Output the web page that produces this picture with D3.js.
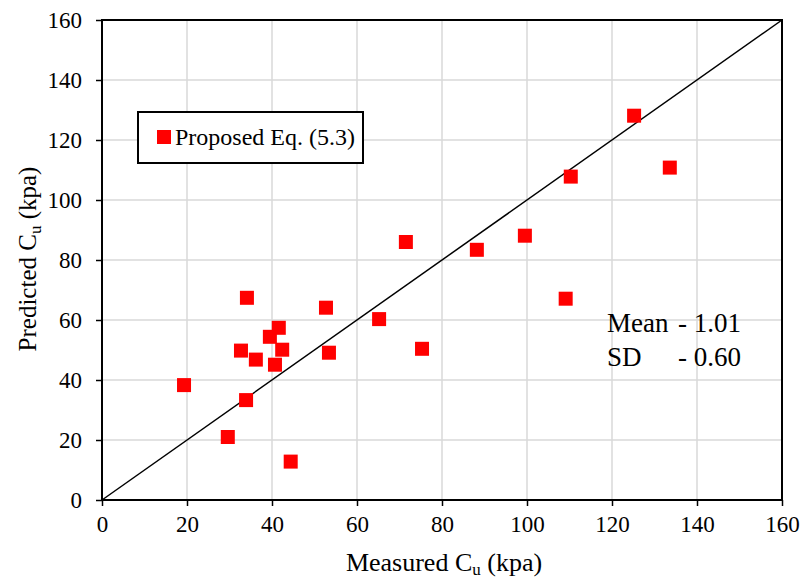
<!DOCTYPE html>
<html>
<head>
<meta charset="utf-8">
<script src="https://cdn.jsdelivr.net/npm/d3@7"></script>
<style>
  body { margin: 0; background: #fff; }
</style>
</head>
<body>
<div id="chart"></div>
<script>
// measured vs predicted Cu (kpa)
const measured  = [19.3, 29.6, 32.7, 33.9, 34.1, 36.2, 39.5, 41.6, 42.4, 40.7, 44.4,
                   52.7, 53.4, 65.2, 71.5, 75.3, 88.2, 99.5, 109.1, 110.3, 125.2, 133.6];
const predicted = [38.3, 21.0, 49.8, 33.3, 67.4, 46.8, 54.4, 57.4, 50.1, 45.1, 12.8,
                   64.1, 49.1, 60.3, 86.0, 50.4, 83.4, 88.1, 67.1, 107.8, 128.1, 110.8];
const tickValues = [0, 20, 40, 60, 80, 100, 120, 140, 160];
const legendLabel = "Proposed Eq. (5.3)";
const statsLines = [["Mean", "- 1.01"], ["SD", "- 0.60"]];

const width = 803, height = 580;
const margin = {top: 20, right: 21, bottom: 80, left: 102};
const red = "#ff0000";
const serif = "Liberation Serif";

const svg = d3.select("#chart").append("svg")
    .attr("width", width).attr("height", height)
    .attr("font-family", serif);

const x = d3.scaleLinear().domain([0, 160]).range([margin.left, width - margin.right]);
const y = d3.scaleLinear().domain([0, 160]).range([height - margin.bottom, margin.top]);

// gridlines
svg.append("g").selectAll("line.gx")
    .data(tickValues.slice(1, -1))
    .enter().append("line")
    .attr("x1", d => x(d)).attr("x2", d => x(d))
    .attr("y1", y(0)).attr("y2", y(160))
    .attr("stroke", "#d9d9d9").attr("stroke-width", 1.5);
svg.append("g").selectAll("line.gy")
    .data(tickValues.slice(1, -1))
    .enter().append("line")
    .attr("y1", d => y(d)).attr("y2", d => y(d))
    .attr("x1", x(0)).attr("x2", x(160))
    .attr("stroke", "#d9d9d9").attr("stroke-width", 1.5);

// axes
const xAxis = svg.append("g")
    .attr("transform", "translate(0," + y(0) + ")")
    .call(d3.axisBottom(x).tickValues(tickValues).tickSize(6).tickPadding(10));
const yAxis = svg.append("g")
    .attr("transform", "translate(" + x(0) + ",0)")
    .call(d3.axisLeft(y).tickValues(tickValues).tickSize(6).tickPadding(14));
[xAxis, yAxis].forEach(function(a) {
    a.attr("font-family", serif).attr("font-size", 23);
    a.select(".domain").remove();
    a.selectAll(".tick line").attr("stroke", "#000").attr("stroke-width", 1.5);
    a.selectAll(".tick text").attr("fill", "#000");
});

// plot frame
svg.append("rect")
    .attr("x", x(0)).attr("y", y(160))
    .attr("width", x(160) - x(0)).attr("height", y(0) - y(160))
    .attr("fill", "none").attr("stroke", "#000").attr("stroke-width", 2);

// 1:1 line
svg.append("line")
    .attr("x1", x(0)).attr("y1", y(0))
    .attr("x2", x(160)).attr("y2", y(160))
    .attr("stroke", "#000").attr("stroke-width", 1.5);

// points
const pts = measured.map((m, i) => ({m: m, p: predicted[i]}));
const sz = 14;
svg.append("g").selectAll("rect")
    .data(pts)
    .enter().append("rect")
    .attr("x", d => x(d.m) - sz / 2)
    .attr("y", d => y(d.p) - sz / 2)
    .attr("width", sz).attr("height", sz)
    .attr("fill", red);

// legend
const lg = svg.append("g");
lg.append("rect")
    .attr("x", 138).attr("y", 112).attr("width", 225).attr("height", 51)
    .attr("fill", "#fff").attr("stroke", "#000").attr("stroke-width", 2);
lg.append("rect")
    .attr("x", 157).attr("y", 130).attr("width", 14).attr("height", 14)
    .attr("fill", red);
lg.append("text")
    .attr("x", 175).attr("y", 145)
    .attr("font-size", 24)
    .text(legendLabel);

// stats text
const st = svg.append("g").attr("font-size", 27);
statsLines.forEach(function(l, i) {
    st.append("text").attr("x", 607).attr("y", 332 + i * 34).text(l[0]);
    st.append("text").attr("x", 678).attr("y", 332 + i * 34).text(l[1]);
});

// axis titles
const xt = svg.append("text")
    .attr("x", (x(0) + x(160)) / 2 + 2).attr("y", 571)
    .attr("text-anchor", "middle")
    .attr("font-size", 26);
xt.append("tspan").text("Measured C");
xt.append("tspan").attr("dy", 4).attr("font-size", 17).text("u");
xt.append("tspan").attr("dy", -4).text(" (kpa)");

const yt = svg.append("text")
    .attr("transform", "translate(36," + 259 + ") rotate(-90)")
    .attr("text-anchor", "middle")
    .attr("font-size", 25);
yt.append("tspan").text("Predicted C");
yt.append("tspan").attr("dy", 5).attr("font-size", 17).text("u");
yt.append("tspan").attr("dy", -5).text(" (kpa)");
</script>
</body>
</html>
